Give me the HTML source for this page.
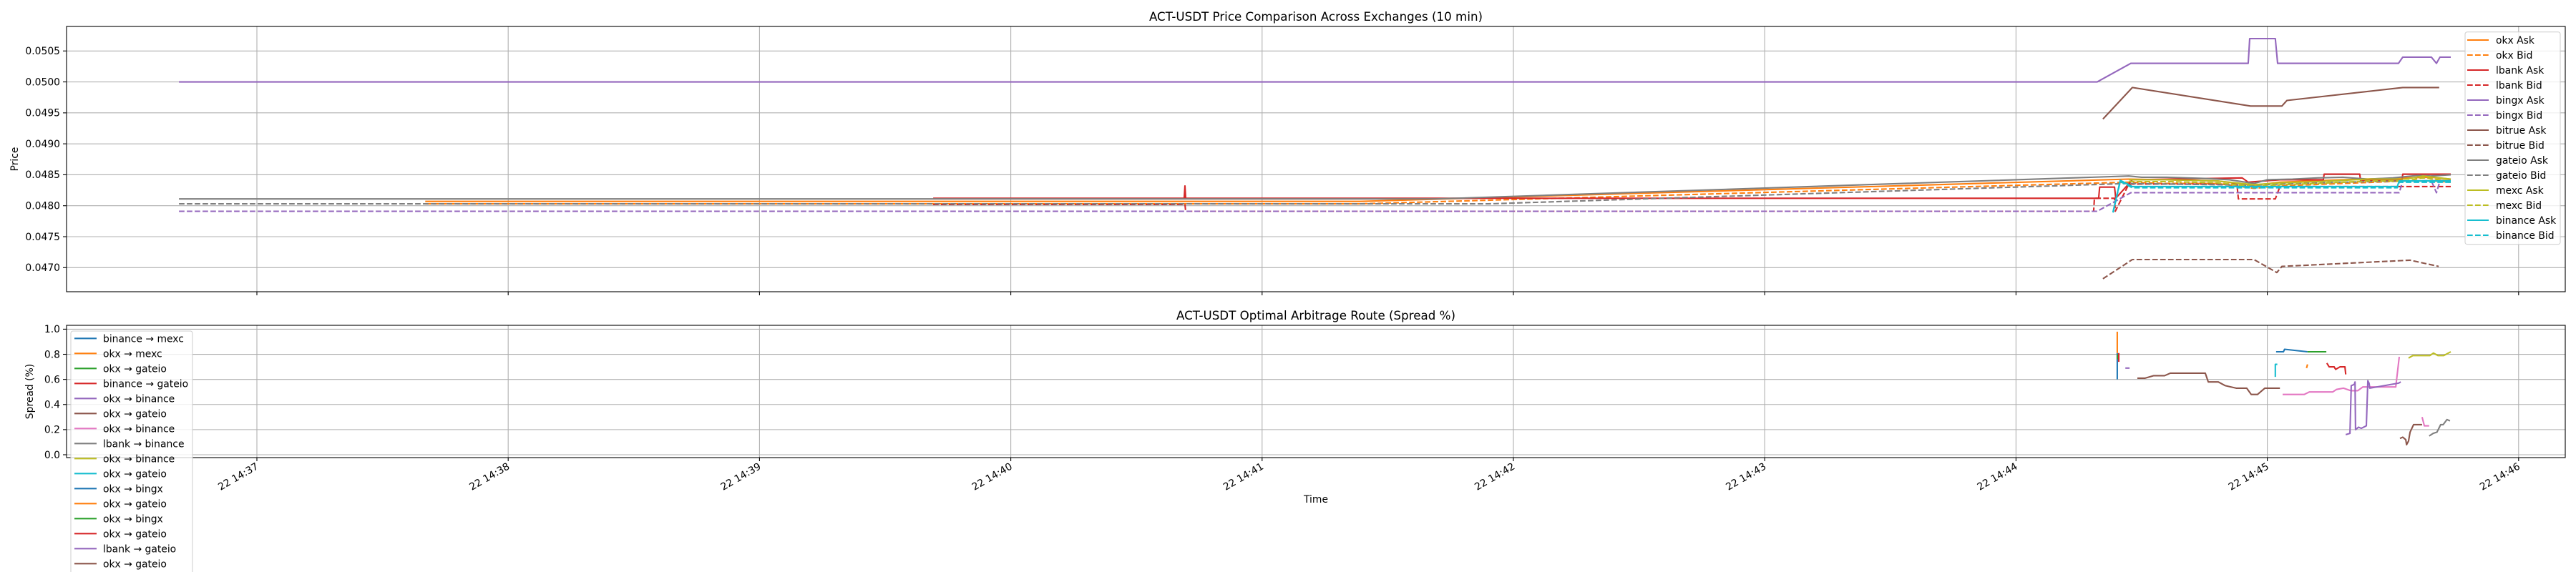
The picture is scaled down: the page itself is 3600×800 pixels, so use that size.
<!DOCTYPE html>
<html><head><meta charset="utf-8"><style>
html,body{margin:0;padding:0;background:#fff}
svg{display:block;font-family:"DejaVu Sans","Liberation Sans",sans-serif}
</style></head><body>
<svg id="chart" xmlns="http://www.w3.org/2000/svg" width="3600" height="800" viewBox="0 0 3600 800">
<rect width="3600" height="800" fill="#fff"/>
<g id="topChart"></g>
<g id="botChart"></g>
</svg>
<script>
// ---- x axis ticks (minutes after 14:00) ----
const xTickMinutes = [37,38,39,40,41,42,43,44,45,46];
const xTickLabels = ["22 14:37","22 14:38","22 14:39","22 14:40","22 14:41","22 14:42","22 14:43","22 14:44","22 14:45","22 14:46"];
// ---- top chart ticks ----
const priceTicks = [0.0470,0.0475,0.0480,0.0485,0.0490,0.0495,0.0500,0.0505];
const priceTickLabels = ["0.0470","0.0475","0.0480","0.0485","0.0490","0.0495","0.0500","0.0505"];
// ---- price series ----
const okxAskT=[37.67,41.388,44.449,44.6,44.8,44.947,45.05,45.3,45.55,45.65,45.73];
const okxAskV=[0.04807,0.04807,0.04843,0.04842,0.04840,0.04833,0.04838,0.04842,0.04845,0.04846,0.04843];
const okxBidT=[37.67,41.388,44.449,44.6,44.8,44.947,45.05,45.3,45.55,45.65,45.73];
const okxBidV=[0.04803,0.04803,0.04838,0.04836,0.04836,0.04828,0.04832,0.04836,0.04840,0.04840,0.04838];
const lbankAskT=[39.691,40.690,40.693,40.696,44.329,44.333,44.392,44.397,44.463,44.9,44.924,45.05,45.223,45.226,45.368,45.371,45.536,45.539,45.73];
const lbankAskV=[0.04812,0.04812,0.04832,0.04812,0.04812,0.04830,0.04830,0.04812,0.04842,0.04845,0.04838,0.04842,0.04842,0.04851,0.04851,0.04841,0.04841,0.04851,0.04851];
const lbankBidT=[39.691,40.693,40.696,44.309,44.312,44.392,44.395,44.449,44.879,44.885,45.032,45.050,45.73];
const lbankBidV=[0.04802,0.04802,0.04791,0.04791,0.04812,0.04812,0.04791,0.04835,0.04835,0.04811,0.04811,0.04831,0.04831];
const bingxAskT=[36.69,44.323,44.457,44.924,44.930,45.032,45.041,45.522,45.539,45.653,45.673,45.687,45.73];
const bingxAskV=[0.0500,0.0500,0.0503,0.0503,0.0507,0.0507,0.0503,0.0503,0.0504,0.0504,0.0503,0.0504,0.0504];
const bingxBidT=[36.69,44.323,44.457,45.525,45.539,45.653,45.673,45.687,45.73];
const bingxBidV=[0.04791,0.04791,0.04821,0.04821,0.04840,0.04840,0.04821,0.04840,0.04840];
const bitrueAskT=[44.346,44.463,44.933,45.058,45.078,45.539,45.684];
const bitrueAskV=[0.04940,0.04991,0.04961,0.04961,0.04970,0.04991,0.04991];
const bitrueBidT=[44.346,44.463,44.947,45.038,45.058,45.568,45.682];
const bitrueBidV=[0.04682,0.04713,0.04713,0.04692,0.04702,0.04712,0.04702];
const gateioAskT=[36.69,41.693,44.449,44.5,44.6,44.75,44.85,44.947,45.0,45.1,45.2,45.3,45.4,45.5,45.6,45.65,45.73];
const gateioAskV=[0.04811,0.04811,0.04848,0.04846,0.04846,0.04844,0.04842,0.04836,0.04842,0.04843,0.04845,0.04846,0.04843,0.04845,0.04849,0.04848,0.04850];
const gateioBidT=[36.69,41.9,44.449,44.947,45.05,45.3,45.55,45.73];
const gateioBidV=[0.04803,0.04803,0.04836,0.04833,0.04835,0.04838,0.04840,0.04841];
const mexcAskT=[44.449,44.6,44.8,44.947,45.05,45.2,45.4,45.55,45.62,45.73];
const mexcAskV=[0.04842,0.04842,0.04840,0.04834,0.04837,0.04839,0.04843,0.04843,0.04848,0.04843];
const mexcBidT=[44.449,44.6,44.8,44.947,45.05,45.2,45.4,45.55,45.62,45.73];
const mexcBidV=[0.04839,0.04839,0.04837,0.04831,0.04834,0.04836,0.04840,0.04840,0.04845,0.04840];
const binanceAskT=[44.386,44.415,44.463,45.517,45.525,45.73];
const binanceAskV=[0.04790,0.04841,0.04831,0.04831,0.04840,0.04840];
const binanceBidT=[44.386,44.415,44.463,45.517,45.525,45.73];
const binanceBidV=[0.04789,0.04839,0.04829,0.04829,0.04838,0.04838];
const priceNames=["okx Ask","okx Bid","lbank Ask","lbank Bid","bingx Ask","bingx Bid","bitrue Ask","bitrue Bid","gateio Ask","gateio Bid","mexc Ask","mexc Bid","binance Ask","binance Bid"];
// ---- spread chart ----
const spreadTicks=[0.0,0.2,0.4,0.6,0.8,1.0];
const spreadTickLabels=["0.0","0.2","0.4","0.6","0.8","1.0"];
const routeNames=["binance → mexc","okx → mexc","okx → gateio","binance → gateio","okx → binance","okx → gateio","okx → binance","lbank → binance","okx → binance","okx → gateio","okx → bingx","okx → gateio","okx → bingx","okx → gateio","lbank → gateio","okx → gateio"];
const r0T=[44.403,44.403]; const r0V=[0.60,0.81];
const r1T=[44.403,44.403]; const r1V=[0.81,0.98];
const r2T=[44.404,44.404]; const r2V=[0.76,0.80];
const r3T=[44.409,44.409]; const r3V=[0.81,0.74];
const r4T=[44.435,44.452]; const r4V=[0.69,0.69];
const r5T=[44.483,44.514,44.548,44.591,44.614,44.753,44.765,44.805,44.833,44.876,44.918,44.936,44.961,44.990,45.050];
const r5V=[0.61,0.61,0.63,0.63,0.65,0.65,0.58,0.58,0.55,0.53,0.53,0.48,0.48,0.53,0.53];
const r6T=[45.061,45.147,45.167,45.260,45.275,45.303,45.332,45.360,45.380,45.511,45.525,null,45.616,45.625,45.644];
const r6V=[0.48,0.48,0.50,0.50,0.52,0.53,0.51,0.51,0.54,0.54,0.78,null,0.30,0.23,0.23];
const r7T=[45.644,45.660,45.675,45.690,45.700,45.715,45.727]; const r7V=[0.15,0.17,0.18,0.24,0.24,0.28,0.27];
const r8T=[45.562,45.579,45.647,45.661,45.679,45.702,45.730]; const r8V=[0.77,0.79,0.79,0.81,0.79,0.79,0.82];
const r9T=[45.032,45.032,45.040]; const r9V=[0.62,0.72,0.72];
const r10T=[45.035,45.064,45.069,45.160]; const r10V=[0.82,0.82,0.84,0.82];
const r11T=[45.156,45.160]; const r11V=[0.69,0.72];
const r12T=[45.160,45.235]; const r12V=[0.82,0.82];
const r13T=[45.237,45.246,45.266,45.272,45.289,45.309,45.312]; const r13V=[0.73,0.70,0.70,0.68,0.70,0.70,0.64];
const r14T=[45.312,45.329,45.334,45.346,45.349,45.351,45.363,45.374,45.394,45.400,45.405,45.408,45.522,45.531]; const r14V=[0.16,0.17,0.55,0.56,0.58,0.20,0.22,0.21,0.23,0.59,0.57,0.53,0.57,0.58];
const r15T=[45.528,45.539,45.551,45.554,45.562,45.568,45.582,45.616]; const r15V=[0.13,0.14,0.12,0.08,0.11,0.18,0.24,0.24];

const NS="http://www.w3.org/2000/svg";
const C=["#1f77b4","#ff7f0e","#2ca02c","#d62728","#9467bd","#8c564b","#e377c2","#7f7f7f","#bcbd22","#17becf"];
const L=93,R=3585;
function xs(t){return 359+(t-37)*351.2;}
function yp(p){return 374.3-(p-0.047)/0.0005*43.29;}
function ysp(v){return 636-v*175.6;}
function mk(tag,attrs,parent){const e=document.createElementNS(NS,tag);for(const k in attrs)e.setAttribute(k,attrs[k]);parent.appendChild(e);return e;}
function txt(s,attrs,parent){const e=mk("text",attrs,parent);e.textContent=s;return e;}
function pathD(T,V,yf){let d="",pen=false;for(let i=0;i<T.length;i++){if(T[i]===null||V[i]===null){pen=false;continue;}d+=(pen?"L":"M")+xs(T[i]).toFixed(1)+","+yf(V[i]).toFixed(1);pen=true;}return d;}

function axes(g,y0,y1,yTicks,yLabels,yf,title,ylab,ylabX){
  const grid=mk("g",{},g);
  
  
  xTickMinutes.forEach(m=>{const x=xs(m);mk("line",{x1:x,x2:x,y1:y0,y2:y1,stroke:"#b0b0b0","stroke-width":1.1},grid);
    mk("line",{x1:x,x2:x,y1:y1,y2:y1+5,stroke:"#000","stroke-width":1.1},g);});
  yTicks.forEach((v,i)=>{const y=yf(v);mk("line",{x1:L,x2:R,y1:y,y2:y,stroke:"#b0b0b0","stroke-width":1.1},grid);
    mk("line",{x1:L-5,x2:L,y1:y,y2:y,stroke:"#000","stroke-width":1.1},g);
    const t=txt(yLabels[i],{x:L-9,y:y+4.8,"text-anchor":"end","font-size":13.9,fill:"#000"},g);
    
    });
  const tt=txt(title,{x:(L+R)/2,y:y0-8,"text-anchor":"middle","font-size":16.7,fill:"#000"},g);
  
  
  const yl=txt(ylab,{x:0,y:0,"text-anchor":"middle","font-size":13.9,transform:`translate(${ylabX},${(y0+y1)/2}) rotate(-90)`},g);
  
  
}
function frame(g,y0,y1){const f=mk("rect",{x:L,y:y0,width:R-L,height:y1-y0,fill:"none",stroke:"#000","stroke-width":1.1},g);
  
  }

// ---- top chart ----
const topG=document.getElementById("topChart");
axes(topG,37,408,priceTicks,priceTickLabels,yp,"ACT-USDT Price Comparison Across Exchanges (10 min)","Price",25);
const clipT=mk("clipPath",{id:"ct"},topG);mk("rect",{x:L,y:37,width:R-L,height:371},clipT);
const clipB=mk("clipPath",{id:"cb"},topG);mk("rect",{x:L,y:455,width:R-L,height:185},clipB);
const priceT=[okxAskT,okxBidT,lbankAskT,lbankBidT,bingxAskT,bingxBidT,bitrueAskT,bitrueBidT,gateioAskT,gateioBidT,mexcAskT,mexcBidT,binanceAskT,binanceBidT];
const priceV=[okxAskV,okxBidV,lbankAskV,lbankBidV,bingxAskV,bingxBidV,bitrueAskV,bitrueBidV,gateioAskV,gateioBidV,mexcAskV,mexcBidV,binanceAskV,binanceBidV];
const pcol=[C[1],C[3],C[4],C[5],C[7],C[8],C[9]];
const pg=mk("g",{"clip-path":"url(#ct)"},topG);
priceT.forEach((T,i)=>{const p=mk("path",{d:pathD(T,priceV[i],yp),fill:"none",stroke:pcol[i>>1],"stroke-width":2.1,"stroke-linejoin":"round"},pg);
  if(i%2)p.setAttribute("stroke-dasharray","7.7,3.3");
  
  });
frame(topG,37,408);
// top legend
const lg=mk("g",{},topG);


mk("rect",{x:3445,y:44.7,width:133,height:297,rx:3,fill:"#fff","fill-opacity":0.8,stroke:"#cccccc"},lg);
priceNames.forEach((n,i)=>{const y=56+i*21;
  const l=mk("line",{x1:3448,x2:3478,y1:y,y2:y,stroke:pcol[i>>1],"stroke-width":2.1},lg);
  if(i%2)l.setAttribute("stroke-dasharray","7.7,3.3");
  const t=txt(n,{x:3488,y:y+5,"font-size":13.9},lg);
  
  });

// ---- bottom chart ----
const botG=document.getElementById("botChart");
axes(botG,455,640,spreadTicks,spreadTickLabels,ysp,"ACT-USDT Optimal Arbitrage Route (Spread %)","Spread (%)",46);
const routeT=[r0T,r1T,r2T,r3T,r4T,r5T,r6T,r7T,r8T,r9T,r10T,r11T,r12T,r13T,r14T,r15T];
const routeV=[r0V,r1V,r2V,r3V,r4V,r5V,r6V,r7V,r8V,r9V,r10V,r11V,r12V,r13V,r14V,r15V];
const bg=mk("g",{"clip-path":"url(#cb)"},botG);
routeT.forEach((T,i)=>{const p=mk("path",{d:pathD(T,routeV[i],ysp),fill:"none",stroke:C[i%10],"stroke-width":2.1,"stroke-linejoin":"round"},bg);
  
  });
frame(botG,455,640);
xTickMinutes.forEach((m,i)=>{const x=xs(m);
  const t=txt(xTickLabels[i],{x:0,y:0,"text-anchor":"end","font-size":13.9,transform:`translate(${x+3},${655}) rotate(-30)`},botG);
  
  });
const xl=txt("Time",{x:(L+R)/2,y:703,"text-anchor":"middle","font-size":13.9},botG);


// bottom legend
const lg2=mk("g",{},botG);


mk("rect",{x:99,y:463,width:170,height:350,rx:3,fill:"#fff","fill-opacity":0.8,stroke:"#cccccc"},lg2);
routeNames.forEach((n,i)=>{const y=473.3+i*21;
  mk("line",{x1:104,x2:135,y1:y,y2:y,stroke:C[i%10],"stroke-width":2.1},lg2);
  const t=txt(n,{x:144,y:y+5,"font-size":13.9},lg2);
  
  });
</script>
</body></html>
